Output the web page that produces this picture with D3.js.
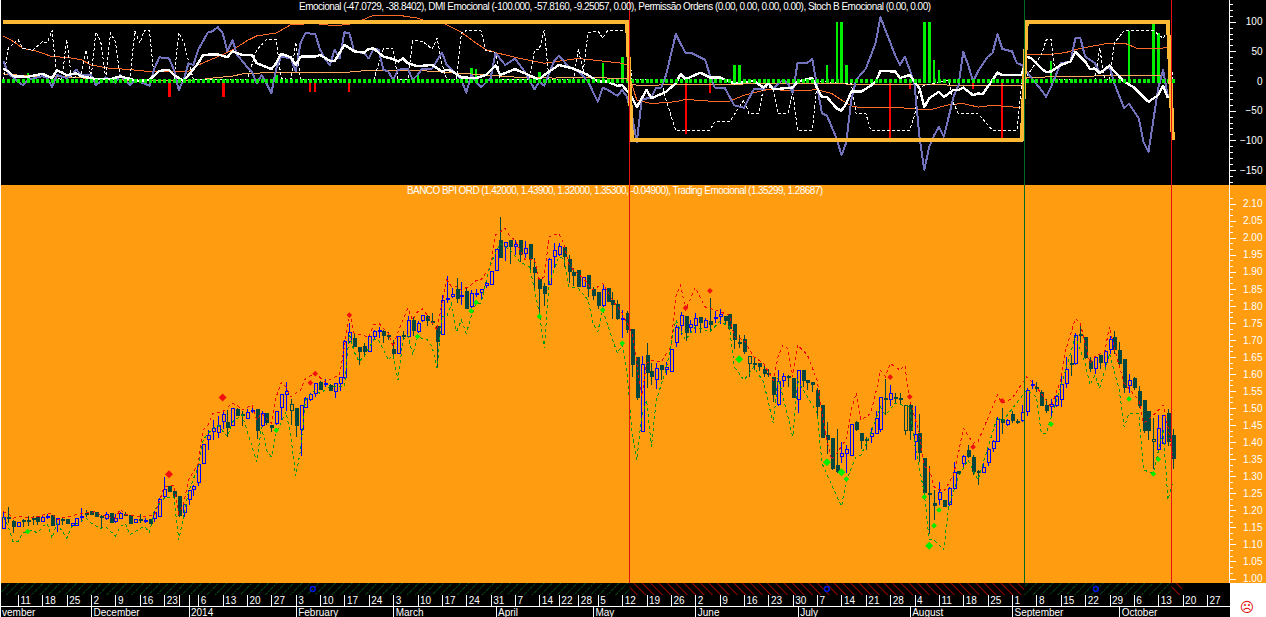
<!DOCTYPE html>
<html><head><meta charset="utf-8">
<script src="https://d3js.org/d3.v7.min.js"></script>
<style>
html,body{margin:0;padding:0;background:#fff;overflow:hidden}
svg{display:block;font-family:"Liberation Sans",Arial,sans-serif}
text{fill:#fff}
</style></head><body><div id="chart"></div>
<script>
// ---------- candles, price in thousandths ----------
const opens=[1146,1179,1167,1152,1171,1171,1175,1181,1166,1182,
1186,1157,1172,1172,1155,1155,1181,1190,1196,1195,
1181,1177,1190,1166,1177,1187,1184,1163,1172,1170,
1173,1177,1182,1240,1271,1255,1241,1193,1232,1262,
1281,1337,1408,1431,1427,1461,1458,1450,1496,1482,
1470,1492,1496,1450,1483,1450,1455,1501,1541,1492,
1499,1438,1501,1524,1543,1575,1572,1566,1548,1573,
1589,1696,1705,1679,1682,1665,1711,1726,1726,1712,
1672,1661,1712,1709,1756,1724,1756,1770,1754,1739,
1716,1822,1827,1849,1826,1841,1797,1836,1840,1859,
1864,1904,1993,1974,1993,1974,1993,1954,1980,1913,
1876,1858,1863,1944,1951,1971,1935,1899,1905,1856,
1888,1848,1838,1800,1851,1817,1805,1763,1778,1731,
1647,1432,1655,1607,1584,1626,1612,1608,1692,1742,
1770,1737,1742,1766,1737,1755,1765,1769,1770,1776,
1744,1693,1700,1631,1632,1632,1612,1602,1590,1512,
1580,1593,1587,1526,1610,1582,1575,1553,1509,1421,
1412,1333,1357,1367,1361,1459,1426,1407,1418,1426,
1438,1528,1526,1530,1529,1433,1509,1401,1426,1351,
1248,1221,1233,1230,1216,1265,1315,1338,1377,1356,
1313,1311,1341,1382,1401,1467,1453,1482,1461,1465,
1489,1567,1559,1546,1509,1504,1509,1526,1573,1630,
1631,1715,1706,1638,1616,1653,1633,1672,1706,1670,
1643,1565,1588,1550,1521,1489,1402,1379,1397,1483,1420];
const highs=[1195,1211,1172,1165,1175,1184,1184,1183,1184,1189,
1187,1177,1177,1173,1163,1178,1206,1202,1198,1196,
1186,1196,1191,1190,1194,1196,1185,1173,1190,1177,
1174,1198,1235,1297,1272,1256,1242,1220,1258,1274,
1335,1394,1436,1465,1477,1495,1494,1500,1500,1492,
1497,1505,1497,1490,1484,1451,1490,1540,1578,1528,
1500,1510,1532,1545,1575,1580,1585,1570,1575,1592,
1699,1749,1720,1680,1690,1715,1730,1739,1730,1724,
1700,1712,1727,1770,1768,1755,1773,1773,1778,1744,
1832,1888,1853,1883,1871,1852,1846,1849,1849,1871,
1902,1965,2061,1988,1994,1993,1994,1989,1981,1939,
1881,1866,1939,1984,1983,1973,1949,1911,1905,1886,
1889,1854,1839,1860,1852,1841,1817,1788,1784,1732,
1648,1652,1692,1631,1631,1627,1634,1673,1744,1783,
1771,1758,1778,1767,1763,1822,1784,1790,1771,1777,
1745,1714,1714,1653,1646,1633,1627,1614,1591,1612,
1602,1597,1588,1611,1611,1583,1576,1559,1510,1460,
1413,1438,1401,1392,1453,1463,1427,1416,1441,1490,
1533,1585,1567,1545,1543,1509,1514,1506,1482,1352,
1329,1260,1284,1231,1269,1342,1316,1362,1392,1363,
1318,1338,1382,1406,1475,1499,1467,1490,1468,1508,
1558,1582,1578,1553,1528,1528,1538,1598,1651,1656,
1719,1751,1707,1650,1653,1656,1670,1712,1727,1695,
1644,1599,1590,1565,1522,1490,1470,1480,1480,1497,1439];
const lows=[1146,1162,1133,1150,1152,1154,1158,1157,1165,1174,
1155,1137,1157,1160,1155,1155,1167,1180,1187,1180,
1148,1172,1165,1162,1177,1182,1162,1163,1162,1162,
1160,1167,1180,1235,1254,1235,1181,1181,1216,1242,
1272,1337,1376,1405,1413,1440,1416,1450,1477,1448,
1470,1487,1408,1444,1450,1431,1450,1465,1490,1450,
1416,1360,1501,1520,1534,1555,1562,1550,1531,1550,
1586,1691,1680,1625,1650,1665,1700,1707,1691,1700,
1650,1660,1700,1705,1712,1720,1752,1740,1744,1618,
1714,1807,1822,1807,1803,1790,1793,1827,1817,1851,
1862,1902,1939,1932,1922,1948,1930,1939,1903,1845,
1783,1799,1861,1910,1947,1915,1866,1857,1856,1855,
1827,1817,1792,1797,1812,1761,1758,1705,1719,1592,
1523,1429,1559,1567,1555,1583,1598,1606,1679,1715,
1696,1719,1719,1719,1735,1725,1749,1747,1745,1730,
1672,1675,1660,1590,1612,1610,1592,1592,1518,1506,
1563,1563,1529,1485,1563,1553,1548,1475,1413,1365,
1318,1310,1340,1309,1359,1433,1380,1377,1397,1424,
1431,1479,1506,1514,1509,1421,1407,1348,1342,1240,
1131,1171,1215,1209,1213,1260,1306,1323,1355,1304,
1274,1310,1330,1372,1400,1424,1446,1457,1453,1460,
1477,1555,1548,1506,1485,1478,1504,1504,1558,1594,
1626,1690,1643,1606,1600,1616,1616,1659,1660,1626,
1545,1543,1553,1499,1428,1407,1322,1372,1395,1390,1320];
const closes=[1178,1177,1152,1165,1170,1170,1174,1166,1178,1183,
1155,1177,1171,1160,1162,1177,1182,1189,1188,1181,
1180,1187,1165,1177,1192,1186,1162,1172,1171,1170,
1160,1195,1233,1262,1254,1241,1186,1218,1257,1270,
1335,1394,1421,1441,1450,1480,1443,1499,1477,1481,
1487,1493,1434,1483,1457,1442,1489,1541,1548,1511,
1448,1507,1529,1541,1573,1556,1573,1551,1571,1590,
1695,1722,1680,1667,1665,1711,1726,1727,1712,1711,
1659,1709,1711,1757,1727,1748,1772,1758,1753,1695,
1817,1823,1834,1822,1830,1792,1837,1837,1848,1866,
1900,1964,1941,1985,1974,1980,1950,1969,1938,1897,
1852,1837,1936,1961,1975,1944,1901,1888,1858,1884,
1851,1829,1802,1848,1814,1805,1763,1764,1732,1629,
1530,1628,1604,1594,1615,1612,1620,1672,1737,1771,
1721,1744,1763,1751,1756,1744,1766,1776,1758,1734,
1700,1692,1665,1652,1631,1621,1602,1601,1541,1578,
1592,1592,1532,1610,1582,1576,1568,1504,1414,1409,
1323,1313,1367,1379,1452,1438,1404,1406,1426,1468,
1530,1527,1543,1529,1528,1508,1434,1423,1371,1252,
1247,1213,1252,1211,1265,1311,1308,1359,1357,1315,
1312,1326,1379,1403,1467,1457,1464,1463,1460,1487,
1553,1568,1558,1509,1492,1512,1535,1570,1612,1629,
1714,1714,1648,1616,1649,1633,1667,1702,1673,1631,
1561,1582,1561,1509,1434,1433,1408,1441,1479,1401,1353];
const outlinedDarkBars=[59,153,185,236];

// ---------- price panel bands ----------
const upperBars=[0,1,2,4,5,7,9,10,11,12,16,19,20,23,24,25,28,31,32,33,35,36,37,38,40,41,42,43,45,47,48,49,51,52,53,55,56,57,58,59,61,62,64,66,69,70,71,72,75,76,77,79,80,81,83,84,85,86,87,89,90,91,92,93,94,96,97,98,100,101,103,104,105,107,109,110,111,112,114,115,116,117,119,121,123,125,127,129,130,131,132,133,135,137,138,139,140,142,144,146,149,150,152,154,156,158,159,160,161,162,163,165,167,168,169,170,172,173,174,175,176,178,179,180,181,182,184,185,186,188,189,190,191,193,195,196,197,199,200,204,205,207,210,211,213,215,217,218,220,221,223,224,226,227,228,230,233,234,236,238,239,240];
const upperBand=[1196,1191,1177,1183,1178,1181,1191,1191,1172,1177,1191,1196,1186,1177,1203,1189,1181,1186,1225,1269,1274,1191,1221,1289,1338,1436,1450,1484,1489,1514,1509,1494,1509,1465,1484,1455,1533,1575,1563,1533,1553,1587,1602,1577,1597,1680,1783,1719,1709,1744,1750,1719,1680,1724,1793,1758,1783,1792,1773,1729,1807,1876,1856,1856,1846,1861,1874,1876,1915,2008,2027,2003,1993,1935,1935,1876,1885,2003,2013,1983,1925,1905,1881,1846,1866,1817,1778,1719,1631,1534,1631,1641,1636,1680,1827,1861,1788,1854,1797,1788,1773,1709,1700,1651,1631,1582,1651,1685,1675,1592,1685,1656,1582,1485,1406,1348,1387,1411,1494,1545,1465,1484,1543,1612,1592,1631,1612,1626,1524,1426,1328,1323,1269,1255,1304,1367,1441,1397,1401,1538,1514,1528,1592,1578,1543,1504,1582,1670,1763,1749,1631,1651,1665,1739,1675,1573,1524,1455,1479,1509,1445,1357];
const lowerBars=[0,1,2,3,4,6,7,8,9,10,11,13,14,17,18,20,21,23,24,25,26,28,29,30,31,33,35,36,37,38,40,41,42,44,46,47,49,52,53,54,55,56,58,59,60,61,62,64,65,67,70,71,72,73,74,76,77,79,80,81,82,83,84,85,87,88,89,90,91,92,93,94,95,96,97,98,100,102,104,106,108,109,110,111,112,114,115,116,118,120,121,122,123,124,126,127,128,129,130,131,132,133,134,136,138,140,142,145,147,149,150,152,154,156,158,159,162,163,167,168,172,173,175,176,178,180,181,183,186,187,189,190,191,193,194,196,198,200,204,205,210,212,213,214,217,220,222,223,224,225,227,229,230,231,233,234,236,238,239,240];
const lowerBand=[1181,1152,1108,1108,1133,1142,1133,1152,1162,1118,1162,1118,1152,1177,1162,1147,1152,1125,1152,1162,1128,1147,1152,1135,1201,1235,1240,1113,1181,1255,1328,1406,1426,1450,1416,1460,1480,1343,1445,1377,1357,1426,1489,1416,1300,1377,1524,1553,1543,1563,1563,1719,1665,1636,1651,1700,1700,1641,1656,1582,1700,1714,1656,1709,1700,1680,1617,1768,1768,1807,1724,1758,1719,1768,1807,1807,1925,1983,1964,1929,1915,1846,1778,1675,1866,1944,1939,1856,1851,1817,1749,1724,1788,1744,1661,1685,1602,1426,1348,1475,1524,1387,1524,1612,1758,1700,1739,1724,1754,1739,1621,1582,1621,1577,1455,1592,1416,1582,1485,1338,1211,1289,1357,1362,1426,1504,1480,1514,1504,1396,1250,1113,1113,1084,1211,1299,1348,1289,1475,1460,1553,1533,1426,1426,1563,1709,1631,1568,1597,1558,1660,1553,1445,1484,1484,1318,1309,1436,1230,1284];

// ---------- signal diamonds on the price panel ----------
const sellBars=[34,45,63,64,71,140,145,182,186,199,205];
const sellPrices=[1306,1531,1574,1601,1773,1794,1844,1591,1533,1386,1521];
const buyBars=[5,56,85,96,97,110,123,127,151,169,172,173,189,190,191,192,215,231,236,237];
const buyPrices=[1138,1435,1710,1785,1810,1769,1788,1690,1643,1341,1312,1292,1239,1096,1155,1201,1453,1527,1307,1350];
const strongSignalBars=[34,45,151,169,172,190];

// ---------- indicator panel ----------
const dmiBars=[0,1,3,4,5,8,9,10,11,13,14,15,16,18,19,21,23,24,26,27,30,31,32,34,35,36,37,38,39,40,42,43,44,45,46,47,48,50,51,52,53,54,55,56,57,59,60,61,62,64,65,66,67,68,69,70,71,72,74,75,76,77,78,79,80,81,83,84,85,86,88,90,91,92,94,95,96,98,100,101,103,105,107,109,110,111,113,114,116,117,118,120,122,123,124,126,127,128,129,130,131,133,134,135,136,138,140,141,144,145,146,148,150,152,154,156,157,158,160,161,162,163,165,166,168,169,171,172,173,174,175,177,179,180,181,183,184,185,186,187,188,189,190,191,192,193,195,196,197,198,199,200,202,203,204,205,207,208,209,211,213,214,215,217,219,220,221,222,224,225,227,228,230,231,233,234,235,237,238,239];
const dmiValues=[34,13,-1,-7,2,8,5,-10,10,5,10,19,10,10,-7,6,-3,10,-7,2,-8,21,40,38,19,-15,2,30,27,53,82,84,91,81,50,69,44,24,16,-4,10,-4,-21,21,41,38,16,64,81,79,53,38,27,53,38,82,81,50,47,38,55,53,19,16,2,19,21,2,10,21,21,48,27,19,2,-20,10,-11,5,47,27,38,16,-14,-1,-8,33,43,24,21,16,-1,-35,-11,-15,-25,-15,-27,-58,-103,-32,-27,-11,-11,10,79,47,48,36,10,-11,-11,-41,-45,-14,-14,-4,-12,2,-4,-20,31,31,37,-55,-58,-97,-125,-103,-32,2,21,64,108,86,44,27,41,19,-7,-94,-150,-111,-92,-77,-94,-27,-7,49,27,-1,16,41,47,79,54,50,30,27,5,-15,-27,-10,30,33,72,73,41,30,13,24,-4,-46,-38,-63,-103,-120,-12,18,-27];
const emoBars=[0,1,2,5,8,10,11,13,15,16,19,22,24,26,28,30,32,34,35,37,38,40,41,44,46,47,49,51,52,55,56,57,59,60,61,64,65,67,68,70,72,74,75,76,78,80,81,82,83,85,88,90,91,92,94,97,99,101,102,105,107,110,111,114,117,120,122,124,126,127,129,130,132,133,135,136,138,139,140,143,145,147,150,154,156,157,158,162,163,166,167,168,169,171,172,173,174,176,178,179,180,183,184,186,188,189,190,192,193,195,196,197,199,200,201,204,205,209,210,211,213,214,215,217,219,220,222,223,224,225,227,228,230,232,235,237,238,239];
const emoValues=[21,16,8,7,12,5,18,10,13,8,3,3,8,3,0,2,17,19,10,0,10,30,44,45,40,50,44,44,30,20,30,46,40,27,41,41,44,34,34,61,50,48,54,55,41,37,33,38,30,25,27,16,19,17,6,5,10,26,10,20,13,2,10,27,21,10,-1,-1,-8,-7,-27,-44,-15,-29,-22,-18,-4,12,3,14,6,6,-4,0,-11,-4,-14,-11,-1,5,-12,-27,-27,-46,-50,-38,-18,-18,-8,-1,17,16,5,10,-12,-44,-29,-18,-27,-15,-15,-11,-24,-21,-22,14,10,10,41,38,21,15,16,27,33,49,33,20,21,13,26,16,-1,-11,-35,-24,-8,-29];
const stochBars=[0,1,3,4,6,8,9,10,11,12,13,14,16,17,18,19,20,21,22,23,24,26,27,28,29,30,31,34,35,36,37,39,50,52,54,56,57,59,60,61,76,78,80,81,83,84,85,86,88,89,90,91,93,94,95,98,99,101,102,108,109,110,111,112,117,118,119,120,122,123,124,128,129,135,136,137,138,145,146,149,151,152,153,155,156,158,159,161,162,163,166,167,168,174,175,177,178,186,187,188,194,195,196,200,203,208,209,213,214,215,216,224,225,226,227,228,230,236,238,239,240];
const stochValues=[2,55,70,55,52,66,64,85,5,2,70,5,10,52,5,83,66,5,81,66,6,5,84,64,86,85,2,2,2,82,66,2,2,52,70,70,5,2,66,2,2,54,54,2,2,68,68,67,54,72,30,2,2,81,85,85,52,48,2,2,52,54,85,2,2,54,16,81,85,72,85,85,2,2,-32,-58,-83,-83,-69,-69,-44,-32,-55,-55,-11,-12,-55,-55,-20,-83,-83,-1,-1,-4,-55,-55,-83,-83,-58,-10,2,-38,-55,-55,-83,-83,-4,44,69,71,2,2,55,2,2,64,85,85,72,85,2];
const adxBars=[0,2,4,7,10,13,16,18,22,25,30,35,38,40,44,47,50,52,56,59,64,68,72,76,81,85,86,90,94,97,99,101,106,111,118,127,128,129,130,133,138,140,145,149,152,157,161,167,170,172,174,176,184,190,194,197,200,203,209,210,215,218,221,227,230,233,239];
const adxValues=[76,67,55,50,41,40,36,27,21,20,16,16,16,27,41,52,68,76,81,95,97,93,97,111,111,106,103,99,82,64,53,48,38,30,38,30,27,-7,-32,-38,-35,-31,-34,-34,-24,-14,-16,-15,-21,-32,-42,-45,-45,-49,-40,-38,-44,-41,-45,45,45,48,55,64,64,54,56];
const signalBars=[0,6,13,20,27,34,40,44,47,49,54,61,71,75,85,92,99,106,113,120,128,129,130,149,155,172,209,210,220,238];
const signalValues=[12,8,7,3,1,0,2,6,8,12,14,15,15,18,18,14,10,6,5,6,4,-5,-7,-6,-4,-5,-8,6,8,10];
const stateBars=[0,128,129,209,210,239,240];
const stateValues=[100,100,-100,-100,100,100,-100];
const permitBars=[5,56,85,96,97,110,123,127,150,151,169,171,172,173,189,190,191,192,215,231,236,237];
const permitValues=[14,10,14,22,21,16,30,40,27,27,27,100,100,27,100,100,36,19,33,84,100,81];
const denyBars=[34,45,63,64,71,140,145,182,186,199,205];
const denyValues=[-27,-27,-18,-18,-18,-89,-20,-100,-13,-13,-100];

// ---------- axes ----------
const priceTicks=[2.10,2.05,2.00,1.95,1.90,1.85,1.80,1.75,1.70,1.65,1.60,1.55,1.50,1.45,1.40,1.35,1.30,1.25,1.20,1.15,1.10,1.05,1.00];
const indicatorTicks=[100,50,0,-50,-100,-150];
const weekBars=[3,8,13,18,23,28,33,36,38,40,45,50,55,60,65,70,75,80,85,90,95,100,105,110,114,118,122,127,132,137,142,147,152,157,162,167,172,177,182,187,192,197,202,207,212,217,222,227,232,237,242,247];
const weekLabels=["11","18","25","2","9","16","23","","","6","13","20","27","3","10","17","24","3","10","17","24","31","7","14","22","28","5","12","19","26","2","9","16","23","30","7","14","21","28","4","11","18","25","1","8","15","22","29","6","13","20","27"];
const monthBars=[18,38,60,80,101,121,142,163,186,207,229];
const monthLabels=["December","2014","February","March","April","May","June","July","August","September","October"];
const regimeEdges=[-1,128.5,209.5,239.7,241.9];
const regimeKinds=["long","short","long","short"];
const regimeLines=[128.5,209.5,239.7];
const regimeLineKinds=["short","long","short"];
const stripMarkerBars=[63.5,169,224.2];
const topTitle="Emocional (-47.0729, -38.8402), DMI Emocional (-100.000, -57.8160, -9.25057, 0.00), Permissão Ordens (0.00, 0.00, 0.00, 0.00), Stoch B Emocional (0.00, 0.00)";
const mainTitle="BANCO BPI ORD (1.42000, 1.43900, 1.32000, 1.35300, -0.04900), Trading Emocional (1.35299, 1.28687)";

// ---------- drawing ----------
const W=1266,H=617,AXIS=1229.5,PANEL_L=1;
const svg=d3.select("#chart").append("svg").attr("width",W).attr("height",H);
const x=d3.scaleLinear().domain([0,240]).range([3.33,1172.85]);
const yI=d3.scaleLinear().domain([-100,100]).range([140.3,21.7]);
const yP=d3.scaleLinear().domain([1,2.1]).range([578.5,203.6]);
const pr=v=>yP(v/1000);
const C={orange:"#ff9c0f",gold:"#fdb933",blue:"#7373bd",red:"#f01010",green:"#00ee00",dark:"#05463f",up:"#0000ff",
  adx:"#ff6a26",sig:"#ffa65a",long:"#006a1e",short:"#e30000"};

const defs=svg.append("defs");
[["long",C.long,45],["short",C.short,-45]].forEach(([id,c,rot])=>{
  const p=defs.append("pattern").attr("id","hatch-"+id).attr("patternUnits","userSpaceOnUse")
    .attr("width",5.9).attr("height",8).attr("patternTransform",`rotate(${rot})`);
  p.append("line").attr("x1",0).attr("x2",0).attr("y1",0).attr("y2",8).attr("stroke",c).attr("stroke-width",1.4)
    .attr("stroke-dasharray",id==="long"?"2 1":null);
});

// backgrounds
svg.append("rect").attr("x",PANEL_L).attr("y",0).attr("width",W-PANEL_L).attr("height",185).attr("fill","#000");
svg.append("rect").attr("x",PANEL_L).attr("y",185).attr("width",W-PANEL_L).attr("height",398).attr("fill",C.orange);
svg.append("rect").attr("x",PANEL_L).attr("y",583).attr("width",AXIS-PANEL_L+0.5).attr("height",34).attr("fill","#000");

// indicator panel
const gI=svg.append("g");
gI.selectAll(".p").data(permitBars).join("rect").attr("shape-rendering","crispEdges")
  .attr("x",d=>x(d)-1).attr("width",2.4).attr("fill",C.green)
  .attr("y",(d,i)=>yI(permitValues[i])).attr("height",(d,i)=>yI(0)-yI(permitValues[i]));
gI.selectAll(".n").data(denyBars).join("rect").attr("shape-rendering","crispEdges")
  .attr("x",d=>x(d)-1).attr("width",(d,i)=>denyValues[i]===-27?3:2).attr("fill","#ff0000")
  .attr("y",yI(0)).attr("height",(d,i)=>yI(denyValues[i])-yI(0));
function series(g,bars,vals,stroke,w,dash){
  g.append("path").attr("d",d3.line().x(d=>x(d)).y((d,i)=>yI(vals[i]))(bars))
   .attr("fill","none").attr("stroke",stroke).attr("stroke-width",w).attr("stroke-dasharray",dash||null)
   .attr("shape-rendering","crispEdges").attr("stroke-linejoin","round");
}
series(gI,signalBars,signalValues,C.sig,1);
series(gI,adxBars,adxValues,C.adx,1);
series(gI,stochBars,stochValues,"#fff",1,"3 2");
series(gI,dmiBars,dmiValues,C.blue,2);
series(gI,emoBars,emoValues,"#fff",2.4);
gI.selectAll(".dot").data(d3.range(0,241)).join("rect").attr("shape-rendering","crispEdges")
  .attr("x",d=>Math.round(x(d))-1).attr("width",3).attr("y",Math.round(yI(0))-2).attr("height",4).attr("fill",C.green);
series(gI,stateBars,stateValues,C.gold,4);

// price panel candles
const gP=svg.append("g").attr("shape-rendering","crispEdges");
const bars=d3.range(opens.length);
const isUp=i=>closes[i]>=opens[i];
const stroke=i=>isUp(i)&&!outlinedDarkBars.includes(i)?C.up:C.dark;
gP.selectAll(".wick").data(bars).join("line")
  .attr("x1",i=>Math.round(x(i))+.5).attr("x2",i=>Math.round(x(i))+.5)
  .attr("y1",i=>pr(highs[i])).attr("y2",i=>pr(lows[i])).attr("stroke",stroke);
gP.selectAll(".body").data(bars).join("rect")
  .attr("x",i=>Math.round(x(i))-.5).attr("width",3)
  .attr("y",i=>pr(Math.max(opens[i],closes[i])))
  .attr("height",i=>Math.max(1,Math.abs(pr(opens[i])-pr(closes[i]))))
  .attr("fill",i=>isUp(i)?C.orange:C.dark).attr("stroke",stroke);

// bands
[[upperBars,upperBand,"#f00000"],[lowerBars,lowerBand,"#009a1a"]].forEach(([b,v,c])=>{
  svg.append("path").attr("d",d3.line().x(d=>x(d)).y((d,i)=>pr(v[i]))(b))
    .attr("fill","none").attr("stroke",c).attr("stroke-width",1).attr("stroke-dasharray","3 3").attr("shape-rendering","crispEdges");
});

// diamonds
const diamond=(bs,ps,c)=>svg.append("g").selectAll("path").data(bs).join("path")
  .attr("d",d=>d3.symbol(d3.symbolSquare,strongSignalBars.includes(d)?32:16)())
  .attr("transform",(d,i)=>`translate(${x(d)},${pr(ps[i])}) rotate(45)`).attr("fill",c);
diamond(sellBars,sellPrices,"#f01010");
diamond(buyBars,buyPrices,"#00ee00");

// regime strip
const regimes=regimeKinds.map((k,i)=>({k,a:Math.max(PANEL_L,x(regimeEdges[i])),b:x(regimeEdges[i+1])}));
svg.append("g").selectAll("rect").data(regimes).join("rect")
  .attr("x",d=>d.a).attr("width",d=>d.b-d.a).attr("y",583).attr("height",12)
  .attr("fill",d=>`url(#hatch-${d.k})`);
svg.append("g").selectAll("circle").data(stripMarkerBars).join("circle")
  .attr("cx",d=>x(d)).attr("cy",589).attr("r",2.4).attr("fill","none").attr("stroke","#0018e0").attr("stroke-width",1.5);

// regime verticals
svg.append("g").selectAll("line").data(regimeLines).join("line").attr("shape-rendering","crispEdges")
  .attr("x1",d=>Math.floor(x(d))+.5).attr("x2",d=>Math.floor(x(d))+.5).attr("y1",0).attr("y2",583)
  .attr("stroke",(d,i)=>regimeLineKinds[i]==="short"?"#e81010":"#006a1e");

// right axes
function rightAxis(scale,major,minor,fmt,y0,y1){
  const g=svg.append("g").attr("transform",`translate(${AXIS},0)`);
  g.append("g").call(d3.axisRight(scale).tickValues(minor).tickSize(3).tickFormat("")).call(s=>s.select(".domain").remove())
    .selectAll("line").attr("stroke","#fff").attr("shape-rendering","crispEdges");
  g.append("g").call(d3.axisRight(scale).tickValues(major).tickSize(6).tickFormat(fmt)).call(s=>s.select(".domain").remove())
    .call(s=>s.selectAll("line").attr("stroke","#fff").attr("shape-rendering","crispEdges"))
    .call(s=>s.selectAll("text").attr("x",33).attr("text-anchor","end").attr("font-size",10).attr("font-family",'"Liberation Sans",Arial,sans-serif').attr("fill","#fff"));
  g.append("line").attr("x1",0).attr("x2",0).attr("y1",y0).attr("y2",y1).attr("stroke","#fff").attr("stroke-width",1.3).attr("shape-rendering","crispEdges");
}
const indMinor=d3.range(-170,131,10).filter(v=>v%50!==0);
rightAxis(yI,indicatorTicks,indMinor,d3.format("d"),0,185);
const priceMinor=d3.range(0,68).map(k=>+(1+k/60).toFixed(4)).filter((v,k)=>k%3!==0&&v<2.13);
rightAxis(yP,priceTicks,priceMinor,d3.format(".2f"),185,583);

// date axis
const gX=svg.append("g");
gX.append("line").attr("x1",PANEL_L).attr("x2",AXIS).attr("y1",606.5).attr("y2",606.5).attr("stroke","#fff").attr("shape-rendering","crispEdges");
gX.selectAll(".wt").data(weekBars).join("line").attr("shape-rendering","crispEdges")
  .attr("x1",d=>Math.round(x(d))+.5).attr("x2",d=>Math.round(x(d))+.5).attr("y1",595).attr("y2",606).attr("stroke","#fff");
gX.selectAll(".wl").data(weekBars).join("text").attr("x",d=>x(d)+2.5).attr("y",604)
  .attr("font-size",10).text((d,i)=>weekLabels[i]);
gX.selectAll(".mt").data(monthBars).join("line").attr("shape-rendering","crispEdges")
  .attr("x1",d=>Math.round(x(d))+.5).attr("x2",d=>Math.round(x(d))+.5).attr("y1",607).attr("y2",617).attr("stroke","#fff");
gX.selectAll(".ml").data(monthBars).join("text").attr("x",d=>x(d)+2.5).attr("y",616)
  .attr("font-size",10).text((d,i)=>monthLabels[i]);
gX.append("text").attr("x",2).attr("y",616).attr("font-size",10).text("vember");

// titles and the status face
svg.append("text").attr("x",299).attr("y",9.5).attr("font-size",10).attr("textLength",632).attr("lengthAdjust","spacing").text(topTitle);
svg.append("text").attr("x",407).attr("y",194).attr("font-size",10).attr("textLength",416).attr("lengthAdjust","spacing").text(mainTitle);
svg.append("text").attr("x",1247).attr("y",612).attr("text-anchor","middle").attr("font-size",14)
  .style("fill","#e01010").attr("font-family","DejaVu Sans").text("\u2639");
</script></body></html>
